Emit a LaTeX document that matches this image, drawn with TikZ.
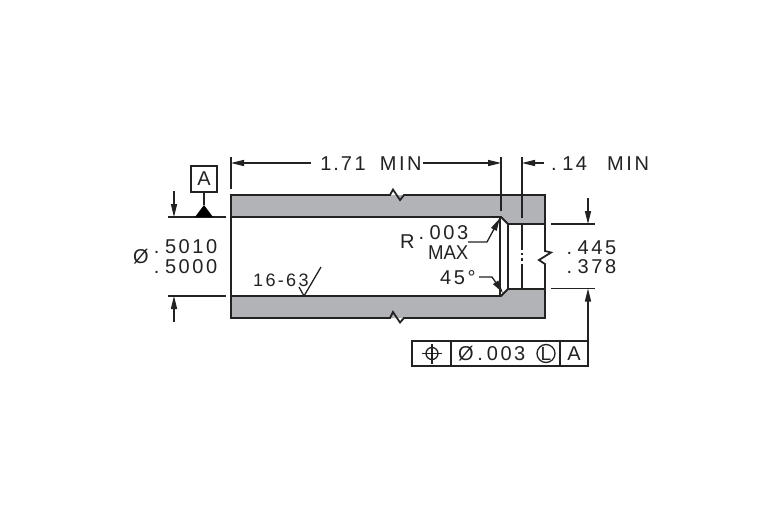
\documentclass[tikz,border=0pt]{standalone}
\usepackage{fontspec}
\setmainfont{Liberation Sans}
\newfontfamily\dimfont[LetterSpace=13]{Liberation Sans}
\usetikzlibrary{arrows.meta}
\definecolor{steel}{HTML}{B1B3B6}
\definecolor{ink}{HTML}{222222}
\newcommand{\dg}{\kern5.5pt}
\tikzset{
  thin line/.style={draw=ink,line width=1.3pt},
  body line/.style={draw=ink,line width=1.8pt,line join=miter},
  dimarrow/.style={thin line,-{Triangle[length=13pt,width=6pt]}},
  dimtext/.style={inner sep=0pt,text=ink,font=\dimfont\fontsize{20}{20}\selectfont},
}
\begin{document}
\begin{tikzpicture}[x=1pt,y=-1pt]
\useasboundingbox (0,0) rectangle (780,520);
\fill[white] (0,0) rectangle (780,520);
% body
\fill[steel] (231,195) -- (545,195) -- (545,318) -- (231,318) -- (231,296) -- (501,296) -- (508,289) -- (545,289) -- (545,224) -- (508,224) -- (501,217) -- (231,217) -- cycle;
\draw[body line] (231,217) -- (231,195) -- (390,195) -- (393,189.5) -- (400,200) -- (404,195) -- (545,195) -- (545,251) -- (551,252.5) -- (539,260) -- (545,264) -- (545,318) -- (404,318) -- (400,322.5) -- (393,312) -- (390,318) -- (231,318) -- (231,296);
\draw[body line] (231,217) -- (501,217) -- (508,224) -- (545,224);
\draw[body line] (231,296) -- (501,296) -- (508,289) -- (545,289);
\draw[thin line] (231,217) -- (231,296);
\draw[thin line] (500,218) -- (500,295) (508,224) -- (508,289);
\draw[thin line] (522,224) -- (522,250) (522,253) -- (522,255) (522,258) -- (522,261) (522,264) -- (522,289);
% extension lines
\draw[thin line] (231,157) -- (231,189) (501,157) -- (501,211) (522,157) -- (522,218);
\draw[thin line] (168,217) -- (226,217) (168,296) -- (226,296);
\draw[thin line] (551,224) -- (595,224) (551,288.5) -- (595,288.5);
% datum
\node[draw=ink,line width=1.3pt,minimum size=26pt,inner sep=0pt,text=ink,font=\fontsize{20}{20}\selectfont] (datum) at (204,179) {A};
\coordinate (dtop) at (204,205);
\draw[thin line] (datum.south) -- (dtop);
\fill[black] (195,217) -- (dtop) -- (213,217) -- cycle;
% dimensions
\node[dimtext] (d171) at (371,163.5) {1\kern2pt.\kern2pt 71\kern14pt MIN};
\coordinate (dl) at (231,163); \coordinate (dr) at (501,163);
\draw[dimarrow] (d171.west) ++(-9,-0.5) -- (dl);
\draw[dimarrow] (d171.east) ++(1,-0.5) -- (dr);
\node[dimtext,anchor=west] (d14) at (551,163.5) {.\dg 14\kern20pt MIN};
\coordinate (d14a) at (544,163); \coordinate (d14b) at (522,163);
\draw[dimarrow] (d14a) -- (d14b);
% diameter
\coordinate (a1) at (174,191); \coordinate (a2) at (174,217);
\coordinate (a3) at (174,322); \coordinate (a4) at (174,296);
\draw[dimarrow] (a1) -- (a2);
\draw[dimarrow] (a3) -- (a4);
\node[dimtext,anchor=west] (dia) at (133,257) {Ø};
\node[dimtext,anchor=east] (dmax) at (217.5,247) {.\dg 5010};
\node[dimtext,anchor=east] (dmin) at (217.5,267) {.\dg 5000};
% finish
\node[dimtext,anchor=west,font=\dimfont\fontsize{18}{18}\selectfont] (fin) at (253,280) {16-63};
\coordinate (f1) at (299,287); \coordinate (f2) at (304,296); \coordinate (f3) at (321,267);
\draw[thin line] (f1) -- (f2) -- (f3);
% radius
\node[dimtext,anchor=west] (rr) at (400,242) {R};
\node[dimtext,anchor=east] (r003) at (468.5,232.5) {.\dg 003};
\node[inner sep=0pt,text=ink,font=\fontsize{20}{20}\selectfont,anchor=east,xscale=.93,transform shape] (rmax) at (468.5,253) {MAX};
\coordinate (r1) at (468,242); \coordinate (r2) at (487,242); \coordinate (r3) at (500,218);
\draw[dimarrow] (r1) -- (r2) -- (r3);
\node[dimtext,anchor=west] (a45) at (440,277.5) {45°};
\coordinate (c1) at (479,277); \coordinate (c2) at (492,277); \coordinate (c3) at (503,293);
\draw[dimarrow] (c1) -- (c2) -- (c3);
% thickness
\coordinate (t1) at (588,198); \coordinate (t2) at (588,224);
\draw[dimarrow] (t1) -- (t2);
\node[dimtext,anchor=east] (t445) at (616.5,248) {.\dg 445};
\node[dimtext,anchor=east] (t378) at (616.5,267) {.\dg 378};
% feature control frame
\draw[thin line] (412,341) rectangle (588,366);
\draw[thin line] (451,341) -- (451,366) (560,341) -- (560,366);
\coordinate (fa) at (588,341); \coordinate (fb) at (588,288.5);
\draw[dimarrow] (fa) -- (fb);
\draw[thin line] (432,353.5) circle (6);
\draw[thin line] (422,353.5) -- (442,353.5) (432,343.5) -- (432,363.5);
\node[dimtext,anchor=west] (ftol) at (458,354) {Ø\kern3.5pt.\kern4pt 003};
\draw[thin line] (546,353.5) circle (9);
\node[inner sep=0pt,text=ink,font=\fontsize{19}{19}\selectfont] (lmc) at (546,354) {L};
\node[dimtext] (fA) at (574,354) {A};
\end{tikzpicture}
\end{document}
